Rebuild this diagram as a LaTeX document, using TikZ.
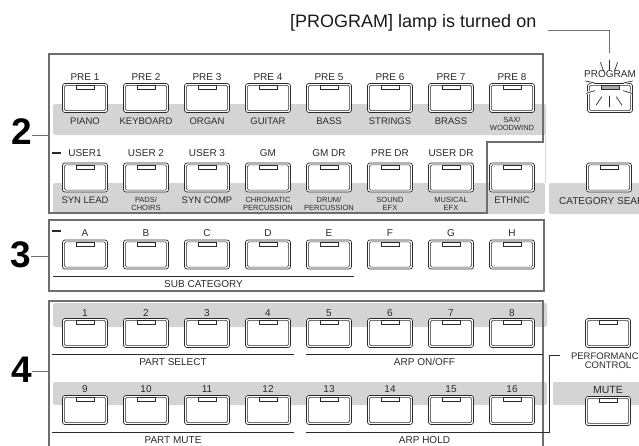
\documentclass[tikz,border=0pt]{standalone}
\usepackage{fontspec}
\setmainfont{Liberation Sans}
\usepackage{xcolor}
\definecolor{BandGray}{HTML}{D4D4D4}
\definecolor{FrameGray}{HTML}{6E6E6E}
\definecolor{KeyLine}{HTML}{2B2B2B}
\definecolor{LampGray}{HTML}{A8A8A8}
\definecolor{LabelInk}{HTML}{2A2A2A}
\usetikzlibrary{positioning}
\newcommand{\keyfont}{\fontsize{9.5}{10}\selectfont}
\newcommand{\twolinefont}{\fontsize{7.5}{8}\selectfont}
\newcommand{\capfont}{\fontsize{10}{10}\selectfont}

\begin{document}
\begin{tikzpicture}[x=1pt, y=-1pt,
  every node/.style={text=LabelInk, inner sep=0pt},
  key/.style={draw=KeyLine, line width=0.7pt, fill=white, rounded corners=2.5pt,
    minimum width=45pt, minimum height=29pt,
    path picture={
      \draw[KeyLine, line width=0.55pt, rounded corners=1.5pt]
        ([shift={(1.9pt,1.9pt)}]path picture bounding box.south west) rectangle
        ([shift={(-1.9pt,-1.9pt)}]path picture bounding box.north east);
      \draw[KeyLine, line width=0.55pt, sharp corners, fill=#1]
        ([xshift=-9pt,yshift=-1.9pt]path picture bounding box.north) rectangle
        ([xshift=9pt,yshift=-6pt]path picture bounding box.north);
    }},
  key/.default=white,
  panel/.style={draw=FrameGray, line width=1.6pt},
  band/.style={fill=BandGray, rounded corners=2pt},
  underline/.style={draw=KeyLine, line width=1pt},
  callout/.style={draw=FrameGray, line width=1pt},
  bignum/.style={font=\fontsize{37}{37}\selectfont\bfseries, text=black},
  ray/.style={draw=KeyLine, line width=0.7pt, line cap=round},
  halo/.style={draw=white, line width=2.6pt}]
  \useasboundingbox (0,0) rectangle (639,445);
  \clip (0,0) rectangle (639,445);

  % grey strips behind the keys
  \fill[band] (53,104) rectangle (546,135);
  \fill[band] (53,183) rectangle (545,214);
  \fill[band] (549,183) rectangle (645,214);
  \fill[band] (53,303) rectangle (547,327);
  \fill[band] (53,382) rectangle (547,405);
  \fill[band] (553,382) rectangle (645,405);
  \draw[BandGray, line width=1pt] (545.5,135) -- (545.5,183);

  % panel frames
  \draw[panel] (49,54) -- (543,54) -- (543,142) -- (487,142) -- (487,213) -- (49,213) -- cycle;
  \draw[panel] (49,220) rectangle (544,291);
  \draw[panel] (49,450) -- (49,301) -- (543,301) -- (543,450);

  % category keys
  \foreach \up/\down/\fnt [count=\i] in {PRE 1/PIANO/\keyfont, PRE 2/KEYBOARD/\keyfont,
      PRE 3/ORGAN/\keyfont, PRE 4/GUITAR/\keyfont, PRE 5/BASS/\keyfont,
      PRE 6/STRINGS/\keyfont, PRE 7/BRASS/\keyfont, PRE 8/{SAX/\\WOODWIND}/\twolinefont} {
    \node[key] (pre\i) at ({85+61*(\i-1)},98) {};
    \node[font=\capfont, above=2.5pt of pre\i] (pretop\i) {\up};
    \node[font=\fnt, align=center, below=4.5pt of pre\i] (prebot\i) {\down};
  }
  \foreach \up/\down/\fnt [count=\i] in {USER1/SYN LEAD/\keyfont, USER 2/{PADS/\\CHOIRS}/\twolinefont,
      USER 3/SYN COMP/\keyfont, GM/{CHROMATIC\\PERCUSSION}/\twolinefont,
      GM DR/{DRUM/\\PERCUSSION}/\twolinefont, PRE DR/{SOUND\\EFX}/\twolinefont,
      USER DR/{MUSICAL\\EFX}/\twolinefont} {
    \node[key] (usr\i) at ({85+61*(\i-1)},177.5) {};
    \node[font=\capfont, above=5.5pt of usr\i] (usrtop\i) {\up};
    \node[font=\fnt, align=center, below=4.5pt of usr\i] (usrbot\i) {\down};
  }
  \node[key] (usr8) at (512,177.5) {};
  \node[font=\keyfont, below=4.5pt of usr8] (ethnic) {ETHNIC};
  \node[key] (catsearch) at (609,177.5) {};
  \node[font=\capfont, below=4.5pt of catsearch] (catsearchtxt) {CATEGORY SEARCH};
  \draw[KeyLine, line width=1.4pt] (52,153) -- (61,153);

  % sub category keys
  \foreach \l [count=\i] in {A,...,H} {
    \node[key] (sub\i) at ({85+61*(\i-1)},254.5) {};
    \node[font=\capfont, above=3pt of sub\i] (subtop\i) {\l};
  }
  \draw[KeyLine, line width=1.4pt] (52,231) -- (61,231);
  \draw[underline] (53,276) -- (354,276) node[midway, below=4pt, font=\capfont] (subcat) {SUB CATEGORY};

  % part keys
  \foreach \i in {1,...,8} {
    \node[key] (part\i) at ({85+61*(\i-1)},333) {};
    \node[font=\capfont, above=1.5pt of part\i] (parttop\i) {\i};
  }
  \foreach \i in {9,...,16} {
    \node[key] (part\i) at ({85+61*(\i-9)},410) {};
    \node[font=\capfont, above=2.5pt of part\i] (parttop\i) {\i};
  }
  \draw[underline] (52,354) -- (294,354) node[midway, below=4pt, font=\capfont] (partsel) {PART SELECT};
  \draw[underline] (306,354) -- (543,354) node[midway, below=4pt, font=\capfont] (arponoff) {ARP ON/OFF};
  \draw[underline] (52,432) -- (294,432) node[midway, below=4pt, font=\capfont] (partmute) {PART MUTE};
  \draw[underline] (306,432) -- (543,432) node[midway, below=4pt, font=\capfont] (arphold) {ARP HOLD};
  \draw[underline, line width=0.8pt] (543,432) -- (549,432) -- (549,355) -- (560,355);

  % performance keys
  \node[key] (perf) at (608,333) {};
  \node[font=\fontsize{9.5}{9}\selectfont, align=center, below=5pt of perf] (perftxt) {PERFORMANCE\\CONTROL};
  \node[key] (mute) at (608,411) {};
  \node[font=\fontsize{10.5}{11}\selectfont, above=2.5pt of mute] (mutetxt) {MUTE};

  % program key with its lit lamp
  \node[key=LampGray] (prog) at (610,98) {};
  \node[font=\capfont, above=5pt of prog] (progtxt) {PROGRAM};
  \coordinate (glow) at (609,86);
  \foreach \a/\ra/\rb in {168/15/24, 198/15/24, 12/15/24, 342/15/24} {
    \draw[halo] ([shift={(\a:\ra pt)}]glow) -- ([shift={(\a:\rb pt)}]glow);
    \draw[ray] ([shift={(\a:\ra pt)}]glow) -- ([shift={(\a:\rb pt)}]glow);
  }
  \foreach \a/\ra/\rb in {90/16/26, 110/16/25, 70/16/25, 236/13/23, 270/10/21, 304/13/23}
    \draw[ray] ([shift={(\a:\ra pt)}]glow) -- ([shift={(\a:\rb pt)}]glow);

  % callout
  \node[font=\fontsize{18}{18}\selectfont, anchor=base west, text=black!90] (lampnote) at (290,27) {[PROGRAM] lamp is turned on};
  \coordinate (lampcall) at (609,53);
  \draw[callout] ([xshift=12pt,yshift=-3pt]lampnote.base east) -| (lampcall);

  % group numbers
  \node[bignum] (grp2) at (22,132) {2};
  \coordinate (grp2end) at (49,135);
  \draw[callout, line width=0.8pt] (grp2.east |- grp2end) -- (grp2end);
  \node[bignum] (grp3) at (21,255) {3};
  \coordinate (grp3end) at (49,256);
  \draw[callout, line width=0.8pt] (grp3.east |- grp3end) -- (grp3end);
  \node[bignum] (grp4) at (22,370) {4};
  \coordinate (grp4end) at (49,371);
  \draw[callout, line width=0.8pt] (grp4.east |- grp4end) -- (grp4end);
\end{tikzpicture}
\end{document}
